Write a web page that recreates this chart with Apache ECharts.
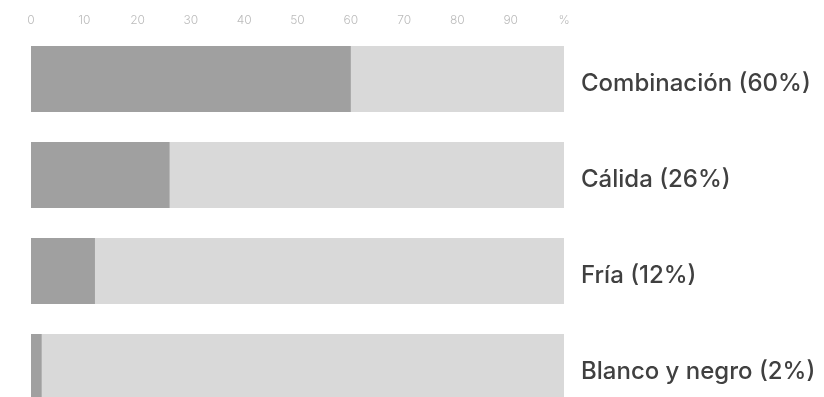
<!DOCTYPE html>
<html>
<head>
<meta charset="utf-8">
<script src="https://cdn.jsdelivr.net/npm/echarts@6/dist/echarts.min.js"></script>
<style>
  html, body { margin: 0; padding: 0; background: #fff; overflow: hidden; }
  #chart { width: 824px; height: 430px; }
</style>
</head>
<body>
<div id="chart"></div>
<script>
var categories = ['Combinación', 'Cálida', 'Fría', 'Blanco y negro'];
var values = [60, 26, 12, 2];
var tickLabels = ['0', '10', '20', '30', '40', '50', '60', '70', '80', '90', '%'];

var chart = echarts.init(document.getElementById('chart'));

var option = {
    animation: false,
    grid: {
        left: 31,
        top: 31,
        width: 533,
        height: 384,
        outerBoundsMode: 'none',
        containLabel: false
    },
    xAxis: {
        type: 'value',
        position: 'top',
        min: 0,
        max: 100,
        interval: 10,
        axisLine: { show: false },
        axisTick: { show: false },
        splitLine: { show: false },
        axisLabel: {
            color: '#bbbbbb',
            fontFamily: 'Inter',
            fontWeight: 300,
            fontSize: 12,
            margin: 5,
            formatter: function (v) { return tickLabels[v / 10]; }
        }
    },
    yAxis: {
        type: 'category',
        inverse: true,
        position: 'right',
        data: categories,
        axisLine: { show: false },
        axisTick: { show: false },
        axisLabel: {
            margin: 17,
            formatter: function (v, i) { return '{t|' + v + ' (' + values[i] + '%)}'; },
            rich: {
                t: {
                    color: '#404040',
                    fontFamily: 'Inter',
                    fontWeight: 500,
                    fontSize: 24,
                    padding: [9, 0, 0, 0]
                }
            }
        }
    },
    series: [{
        type: 'bar',
        data: values,
        barWidth: 66,
        showBackground: true,
        backgroundStyle: { color: '#d9d9d9' },
        itemStyle: { color: '#a0a0a0' }
    }]
};

chart.setOption(option);
</script>
</body>
</html>
